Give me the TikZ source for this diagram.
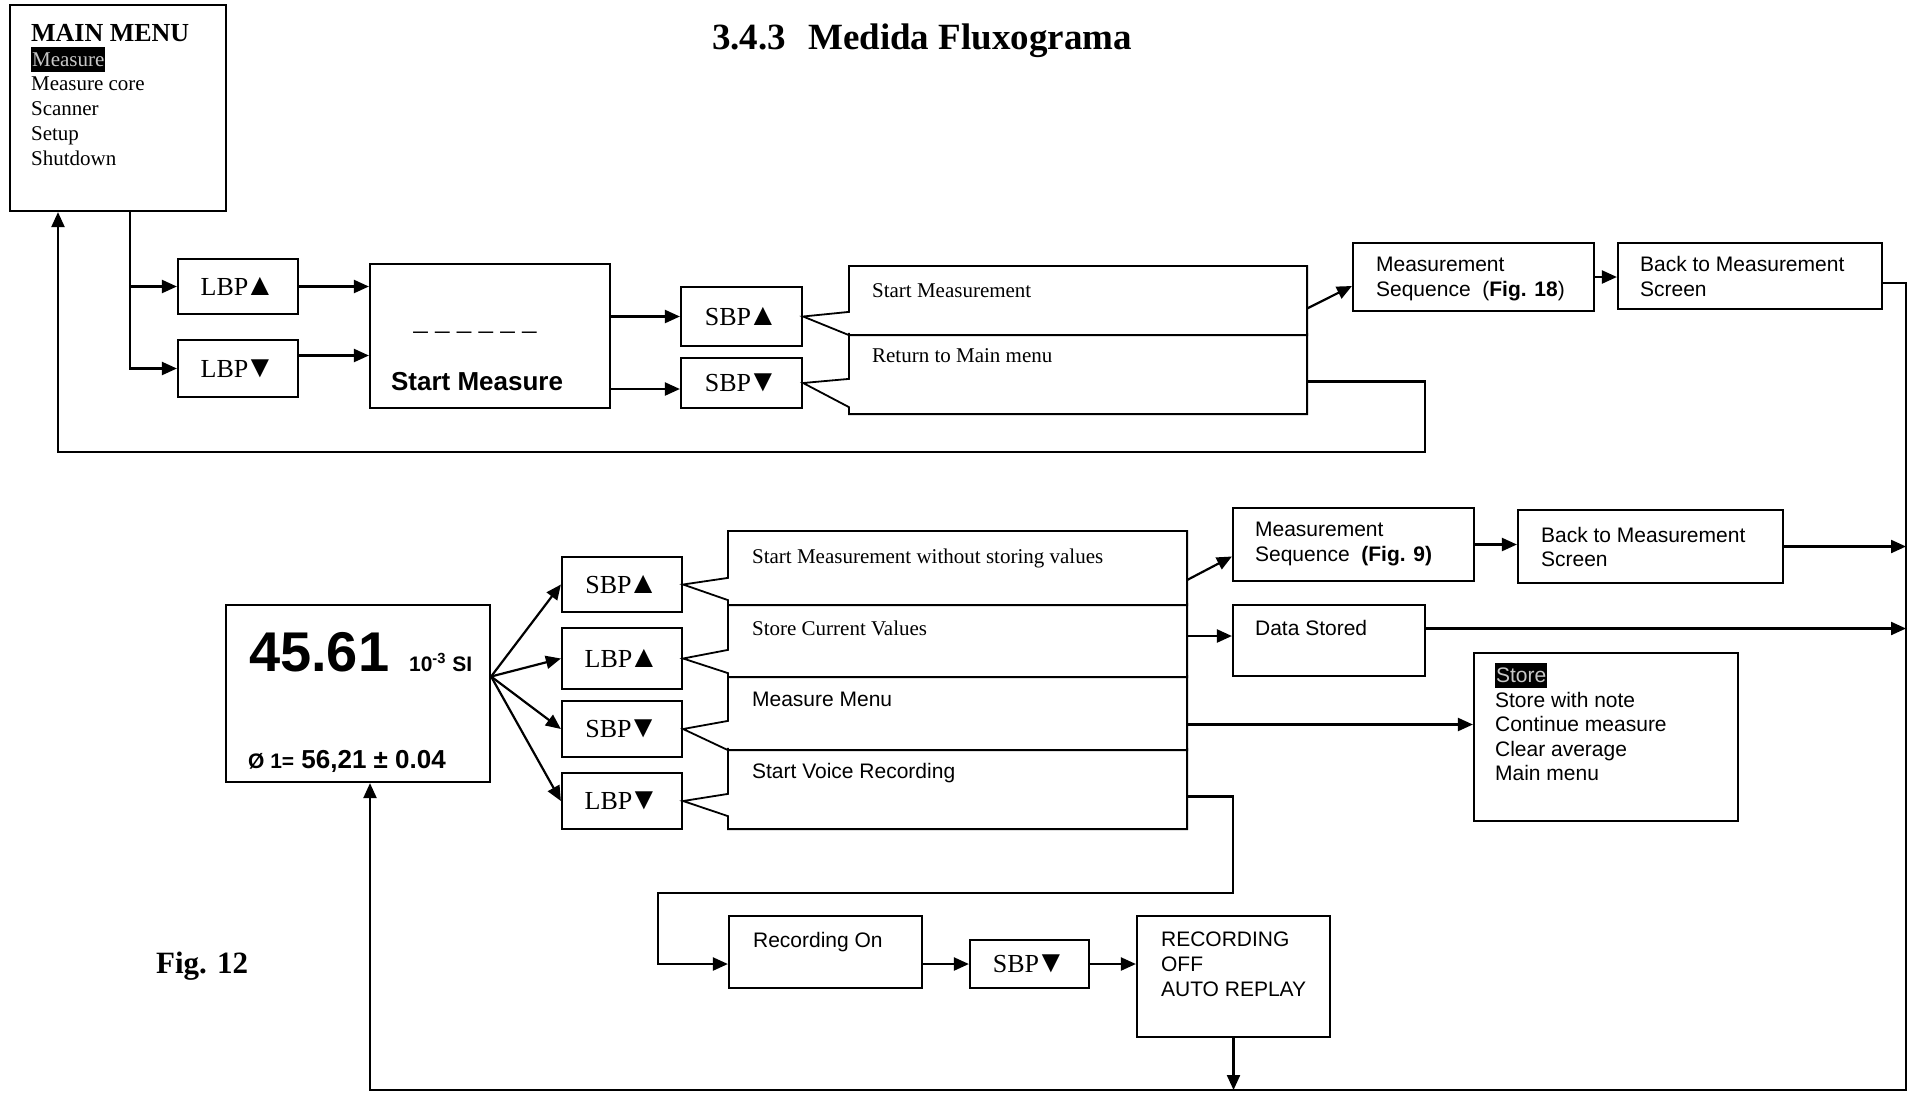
\documentclass[tikz,border=0pt]{standalone}
\usepackage{fontspec}
\setmainfont{Liberation Serif}
\setsansfont{Liberation Sans}
\usetikzlibrary{arrows.meta,fit}
\newcommand{\kup}{\kern-1.8pt{\fontsize{15.5}{15}\selectfont▲}}
\newcommand{\kdown}{\kern-1.8pt{\fontsize{15.5}{15}\selectfont▼}}

\begin{document}
\begin{tikzpicture}[
  x=0.5pt, y=-0.5pt,
  line width=1.1pt,
  box/.style={draw, inner sep=0pt},
  area/.style={inner sep=0pt},
  keylbl/.style={anchor=center, inner sep=0pt, text height=8.6pt, text depth=0pt, font=\fontsize{13}{15}\selectfont},
  callout/.style={draw, line width=0.9pt},
  wire/.style={-{Triangle[length=7.5pt,width=6.5pt]}},
  txt/.style={anchor=base west, inner sep=0pt, font=\fontsize{10.5}{12}\selectfont},
  stxt/.style={txt, font=\sffamily\fontsize{10.5}{12}\selectfont},
  hl/.style={fill=black, text=black!22, text height=9.5pt, text depth=3pt, inner xsep=0.5pt, inner ysep=0pt}
]
\useasboundingbox (0,0) rectangle (1915,1093);

% title and main menu
\node[anchor=base west, inner sep=0pt, font=\bfseries\fontsize{18.5}{22}\selectfont] (title) at (711,49) {3.4.3\hspace{11pt}Medida Fluxograma};
\node[box, fit={(10,5) (226,211)}] (mainmenu) {};
\node[txt, font=\bfseries\fontsize{13}{15}\selectfont] (mmhead) at (30,41) {MAIN MENU};
\node[txt, hl] (mm1) at (30,66) {Measure};
\node[txt] (mm2) at (30,90.5) {Measure core};
\node[txt] (mm3) at (30,115) {Scanner};
\node[txt] (mm4) at (30,140) {Setup};
\node[txt] (mm5) at (30,165) {Shutdown};

% upper row
\node[box, fit={(178,259) (298,314)}] (lbpu) {};
\node[keylbl] at (lbpu.center) {LBP\kup};
\node[box, fit={(178,340) (298,397)}] (lbpd) {};
\node[keylbl] at (lbpd.center) {LBP\kdown};
\node[box, fit={(370,264) (610,408)}] (sm) {};
\node[anchor=base, inner sep=0pt, font=\fontsize{14.5}{16}\selectfont] (smdash) at (475,339) {– – – – – –};
\node[txt, font=\sffamily\bfseries\fontsize{13}{15}\selectfont] (smtxt) at (390,390) {Start Measure};
\node[box, fit={(681,287) (802,346)}] (sbpu) {};
\node[keylbl] at (sbpu.center) {SBP\kup};
\node[box, fit={(681,358) (802,408)}] (sbpd) {};
\node[keylbl] at (sbpd.center) {SBP\kdown};

\node[area, fit={(850,267) (1306,334)}] (optA) {};
\node[area, fit={(850,334) (1306,413)}] (optB) {};
\draw[callout] (optA.north east) -- (optA.north west) -- ++(0,46) -- (sbpu.east)
  -- (optA.south west) -- (optA.south east) -- cycle;
\draw[callout] (optB.north west) -- ++(0,46) -- (sbpd.east)
  -- ([yshift=3.5pt]optB.south west) -- (optB.south west) -- (optB.south east) -- (optB.north east);
\node[txt] (optAtxt) at (871,297) {Start Measurement};
\node[txt] (optBtxt) at (871,362) {Return to Main menu};

\node[box, fit={(1353,243) (1594,311)}] (ms18) {};
\node[stxt] (ms18a) at (1375,271) {Measurement};
\node[stxt] (ms18b) at (1375,296) {Sequence\ \ (\textbf{Fig. 18})};
\node[box, fit={(1618,243) (1882,309)}] (back18) {};
\node[stxt] (back18a) at (1639,271) {Back to Measurement};
\node[stxt] (back18b) at (1639,296) {Screen};

\coordinate (rail) at (1906,1090);
\coordinate (loopc) at (1425,452);
\coordinate (vr1) at (1233,893);
\coordinate (vr2) at (658,893);

% measurement screen
\node[box, fit={(226,605) (490,782)}] (disp) {};
\node[txt, font=\sffamily\bfseries\fontsize{28}{30}\selectfont] (val) at (248,671) {45.61};
\node[txt, font=\sffamily\bfseries\fontsize{10.5}{12}\selectfont] (unit) at (408,671) {10\textsuperscript{-3} SI};
\node[txt, font=\sffamily\bfseries\fontsize{10.5}{12}\selectfont] (avg) at (247,768) {Ø 1=\fontsize{13}{15}\selectfont{} 56,21 ± 0.04};

\node[box, fit={(562,557) (682,612)}] (sbpu2) {};
\node[keylbl] at (sbpu2.center) {SBP\kup};
\node[box, fit={(562,628) (682,689)}] (lbpu2) {};
\node[keylbl] at (lbpu2.center) {LBP\kup};
\node[box, fit={(562,701) (682,757)}] (sbpd2) {};
\node[keylbl] at (sbpd2.center) {SBP\kdown};
\node[box, fit={(562,773) (682,829)}] (lbpd2) {};
\node[keylbl] at (lbpd2.center) {LBP\kdown};

\node[area, fit={(729,532) (1186,604)}] (opt1) {};
\node[area, fit={(729,604) (1186,676)}] (opt2) {};
\node[area, fit={(729,676) (1186,749)}] (opt3) {};
\node[area, fit={(729,749) (1186,828)}] (opt4) {};
\draw[callout] (opt1.north east) -- (opt1.north west) -- ++(0,47) -- (sbpu2.east)
  -- ([yshift=2.5pt]opt1.south west) -- (opt1.south west) -- (opt1.south east) -- cycle;
\draw[callout] (opt2.north west) -- ++(0,47) -- (lbpu2.east)
  -- ([yshift=2pt]opt2.south west) -- (opt2.south west) -- (opt2.south east) -- (opt2.north east);
\draw[callout] (opt3.north west) -- ++(0,46) -- (sbpd2.east)
  -- (opt3.south west) -- (opt3.south east) -- (opt3.north east);
\draw[callout] (opt4.north west) -- ++(0,46) -- (lbpd2.east)
  -- ([yshift=6.5pt]opt4.south west) -- (opt4.south west) -- (opt4.south east) -- (opt4.north east);
\node[txt] (opt1txt) at (751,563) {Start Measurement without storing values};
\node[txt] (opt2txt) at (751,635) {Store Current Values};
\node[stxt] (opt3txt) at (751,706) {Measure Menu};
\node[stxt] (opt4txt) at (751,778) {Start Voice Recording};

\node[box, fit={(1233,508) (1474,581)}] (ms9) {};
\node[stxt] (ms9a) at (1254,536) {Measurement};
\node[stxt] (ms9b) at (1254,561) {Sequence\ \ \textbf{(Fig. 9)}};
\node[box, fit={(1518,510) (1783,583)}] (back9) {};
\node[stxt] (back9a) at (1540,542) {Back to Measurement};
\node[stxt] (back9b) at (1540,566) {Screen};
\node[box, fit={(1233,605) (1425,676)}] (stored) {};
\node[stxt] (storedtxt) at (1254,635) {Data Stored};

\node[box, fit={(1474,653) (1738,821)}] (storemenu) {};
\node[stxt, hl] (sm1) at (1494,682) {Store};
\node[stxt] (sm2) at (1494,707) {Store with note};
\node[stxt] (sm3) at (1494,731) {Continue measure};
\node[stxt] (sm4) at (1494,756) {Clear average};
\node[stxt] (sm5) at (1494,780) {Main menu};

% voice recording
\node[box, fit={(729,916) (922,988)}] (recon) {};
\node[stxt] (recontxt) at (752,947) {Recording On};
\node[box, fit={(970,940) (1089,988)}] (sbpd3) {};
\node[keylbl] at (sbpd3.center) {SBP\kdown};
\node[box, fit={(1137,916) (1330,1037)}] (recoff) {};
\node[stxt] (recoffa) at (1160,946) {RECORDING};
\node[stxt] (recoffb) at (1160,971) {OFF};
\node[stxt] (recoffc) at (1160,996) {AUTO REPLAY};

\node[txt, font=\bfseries\fontsize{15.5}{18}\selectfont] (figlbl) at (155,973) {Fig. 12};

% connectors
\draw[wire] ([xshift=6pt]mainmenu.south) |- (lbpu.west);
\draw[wire] ([xshift=6pt]mainmenu.south) |- (lbpd.west);
\draw[wire] (lbpu.east) -- (lbpu.east -| sm.west);
\draw[wire] ([yshift=6.5pt]lbpd.east) -- ([yshift=6.5pt]lbpd.east -| sm.west);
\draw[wire] (sbpu.west -| sm.east) -- (sbpu.west);
\draw[wire] ([yshift=-3pt]sbpd.west -| sm.east) -- ([yshift=-3pt]sbpd.west);
\draw[wire] ([yshift=-4pt]optA.east) -- ([yshift=-4.5pt]ms18.west);
\draw[wire] (ms18.east) -- (ms18.east -| back18.west);
\draw[wire] ([yshift=-3.5pt]back18.east) -| (rail) -| ([xshift=6pt]disp.south);
\draw[wire] ([yshift=-4pt]optB.east) -| (loopc) -| ([xshift=-30pt]mainmenu.south);

\draw[wire] ([yshift=8.5pt]disp.east) -- (sbpu2.west);
\draw[wire] ([yshift=8.5pt]disp.east) -- (lbpu2.west);
\draw[wire] ([yshift=8.5pt]disp.east) -- (sbpd2.west);
\draw[wire] ([yshift=8.5pt]disp.east) -- (lbpd2.west);
\draw[wire] ([yshift=-6pt]opt1.east) -- ([yshift=-6pt]ms9.west);
\draw[wire] (ms9.east) -- (ms9.east -| back9.west);
\draw[wire] (back9.east) -- (back9.east -| rail);
\draw[wire] ([yshift=2pt]opt2.east) -- ([yshift=2pt]opt2.east -| stored.west);
\draw[wire] ([yshift=6pt]stored.east) -- ([yshift=6pt]stored.east -| rail);
\draw[wire] ([yshift=-6pt]opt3.east) -- ([yshift=-6pt]opt3.east -| storemenu.west);
\draw[wire] ([yshift=-4pt]opt4.east) -| (vr1) -- (vr2) |- ([yshift=-6pt]recon.west);
\draw[wire] (recon.east |- sbpd3.west) -- (sbpd3.west);
\draw[wire] (sbpd3.east) -- (sbpd3.east -| recoff.west);
\draw[wire] (recoff.south) -- (recoff.south |- rail);
\end{tikzpicture}
\end{document}
